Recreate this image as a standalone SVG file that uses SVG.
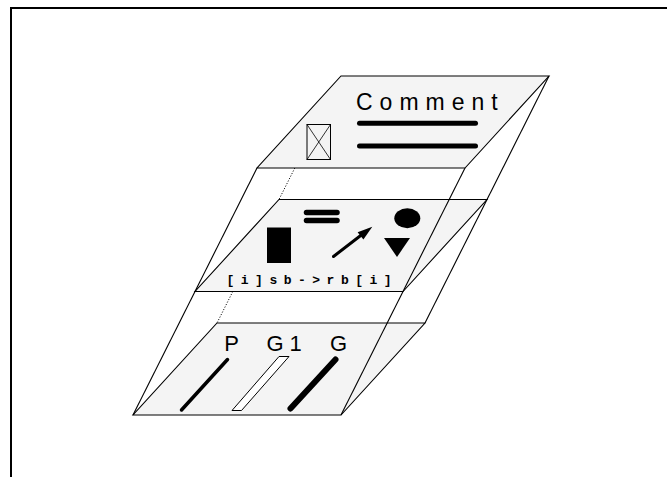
<svg xmlns="http://www.w3.org/2000/svg" width="668" height="477" viewBox="0 0 668 477">
<style>
.frame{fill:none;stroke:#000;stroke-width:2}
.panel{fill:#f4f4f4;stroke:#000;stroke-width:1.1;stroke-linejoin:miter}
.edge{fill:none;stroke:#000;stroke-width:1.1}
.hidden{fill:none;stroke:#000;stroke-width:0.9;stroke-dasharray:1.2,1.6}
.bar{stroke:#000;stroke-linecap:round;fill:none}
.lbl{font-family:"Liberation Sans",Arial,sans-serif;fill:#000}
.mono{font-family:"Liberation Mono","Courier New",monospace;font-weight:bold;fill:#000}
</style>
<rect width="668" height="477" fill="#fff"/>
<path class="frame" d="M11,477 V8 H667"/>

<g id="panel-bottom">
  <polygon class="panel" points="217,323 425,323 341,415 133,415"/>
  <text class="lbl" x="224.3" y="350.5" font-size="22">P</text>
  <text class="lbl" x="266.5" y="350.5" font-size="22" letter-spacing="6">G1</text>
  <text class="lbl" x="330" y="350.5" font-size="22">G</text>
  <line class="bar" x1="227.5" y1="359.5" x2="181.5" y2="410" stroke-width="3.5"/>
  <polygon points="279,356.5 289,356.5 241.5,410.5 232,410.5" fill="#fff" stroke="#000" stroke-width="1"/>
  <line class="bar" x1="335.5" y1="359.5" x2="290.5" y2="408.5" stroke-width="6"/>
</g>

<g id="panel-middle">
  <polygon class="panel" points="279,199.5 487,199.5 403,291.5 195,291.5"/>
  <rect x="267" y="227.5" width="24" height="35.5" fill="#000"/>
  <line class="bar" x1="306.5" y1="212.5" x2="337" y2="212.5" stroke-width="5.5"/>
  <line class="bar" x1="306.5" y1="220.5" x2="337" y2="220.5" stroke-width="5.5"/>
  <ellipse cx="407.3" cy="218.3" rx="13" ry="10" fill="#000"/>
  <polygon points="384,238 410,238 397,257" fill="#000"/>
  <line x1="333.5" y1="256.5" x2="362" y2="234.5" stroke="#000" stroke-width="3" stroke-linecap="round"/>
  <polygon points="372.3,226.7 363.4,239.6 357.6,232.2" fill="#000"/>
  <text class="mono" x="226.5" y="283.5" font-size="13" letter-spacing="6.5">[i]sb-&gt;rb[i]</text>
</g>

<g id="panel-top">
  <polygon class="panel" points="341,76 549,76 465,168 257,168"/>
  <text class="lbl" x="356" y="110" font-size="23" letter-spacing="7">Comment</text>
  <line class="bar" x1="359.5" y1="123.3" x2="475.5" y2="123.3" stroke-width="5"/>
  <line class="bar" x1="359.5" y1="146" x2="475.5" y2="146" stroke-width="5"/>
  <g id="icon-box">
    <rect x="307" y="124.5" width="23.5" height="35" fill="none" stroke="#000" stroke-width="1"/>
    <path d="M307,124.5 L330.5,159.5 M330.5,124.5 L307,159.5" stroke="#000" stroke-width="0.8" fill="none"/>
  </g>
</g>

<g id="connectors">
  <line class="edge" x1="257" y1="168" x2="133" y2="415"/>
  <line class="edge" x1="465" y1="168" x2="341" y2="415"/>
  <line class="edge" x1="549" y1="76" x2="425" y2="323"/>
  <line class="hidden" x1="294.8" y1="168" x2="279" y2="199.5"/>
  <line class="hidden" x1="232.8" y1="291.5" x2="217" y2="323"/>
</g>
</svg>
